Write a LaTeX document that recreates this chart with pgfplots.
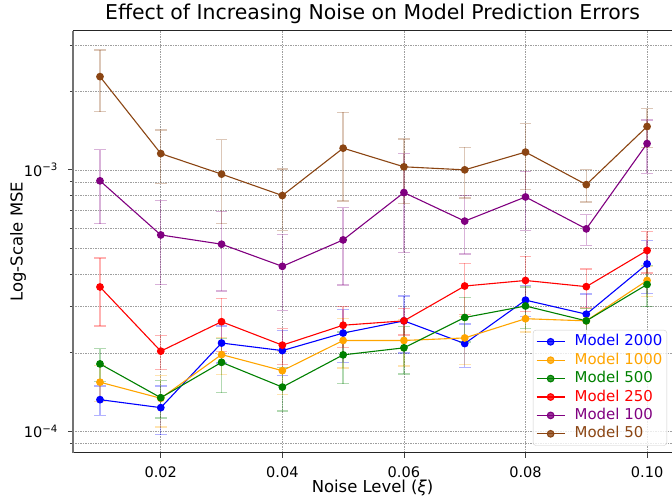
\documentclass[border=0pt]{standalone}
\usepackage{fontspec}
\setmainfont{DejaVu Sans}
\usepackage{pgfplots}
\usepackage{pgfplotstable}
\pgfplotsset{compat=1.18}

\definecolor{mblue}{HTML}{0000FF}
\definecolor{morange}{HTML}{FFA500}
\definecolor{mgreen}{HTML}{008000}
\definecolor{mred}{HTML}{FF0000}
\definecolor{mpurple}{HTML}{800080}
\definecolor{mbrown}{HTML}{8B4513}

% noise level, mean MSE, error
\pgfplotstableread{
x y e
0.01 1.325e-4 0.17e-4
0.02 1.235e-4 0.26e-4
0.03 2.18e-4 0.35e-4
0.04 2.04e-4 0.40e-4
0.05 2.38e-4 0.54e-4
0.06 2.65e-4 0.65e-4
0.07 2.17e-4 0.41e-4
0.08 3.18e-4 0.43e-4
0.09 2.81e-4 0.55e-4
0.10 4.37e-4 1.00e-4
}\mtwothousand
\pgfplotstableread{
x y e
0.01 1.545e-4 0.24e-4
0.02 1.341e-4 0.30e-4
0.03 1.97e-4 0.32e-4
0.04 1.71e-4 0.32e-4
0.05 2.23e-4 0.48e-4
0.06 2.23e-4 0.45e-4
0.07 2.28e-4 0.48e-4
0.08 2.70e-4 0.30e-4
0.09 2.65e-4 0.30e-4
0.10 3.78e-4 0.50e-4
}\mthousand
\pgfplotstableread{
x y e
0.01 1.815e-4 0.26e-4
0.02 1.348e-4 0.22e-4
0.03 1.84e-4 0.43e-4
0.04 1.48e-4 0.28e-4
0.05 1.965e-4 0.44e-4
0.06 2.09e-4 0.43e-4
0.07 2.73e-4 0.53e-4
0.08 3.02e-4 0.55e-4
0.09 2.65e-4 0.30e-4
0.10 3.65e-4 0.65e-4
}\mfivehundred
\pgfplotstableread{
x y e
0.01 3.57e-4 1.04e-4
0.02 2.03e-4 0.30e-4
0.03 2.63e-4 0.60e-4
0.04 2.14e-4 0.33e-4
0.05 2.55e-4 0.45e-4
0.06 2.65e-4 0.31e-4
0.07 3.60e-4 0.80e-4
0.08 3.78e-4 0.90e-4
0.09 3.58e-4 0.60e-4
0.10 4.92e-4 0.88e-4
}\mtwofifty
\pgfplotstableread{
x y e
0.01 9.08e-4 2.85e-4
0.02 5.64e-4 2.00e-4
0.03 5.20e-4 1.75e-4
0.04 4.28e-4 1.37e-4
0.05 5.40e-4 1.77e-4
0.06 8.19e-4 3.35e-4
0.07 6.37e-4 1.60e-4
0.08 7.88e-4 2.00e-4
0.09 5.95e-4 0.80e-4
0.10 1.26e-3 2.90e-4
}\mhundred
\pgfplotstableread{
x y e
0.01 2.27e-3 6.0e-4
0.02 1.154e-3 2.65e-4
0.03 9.63e-4 3.4e-4
0.04 7.98e-4 2.1e-4
0.05 1.21e-3 4.5e-4
0.06 1.027e-3 2.85e-4
0.07 1.0e-3 2.2e-4
0.08 1.169e-3 3.3e-4
0.09 8.78e-4 1.25e-4
0.10 1.464e-3 2.5e-4
}\mfifty

\pgfplotsset{
  model/.style={
    color=#1, solid, mark=*, mark size=3.3bp, line width=1.1bp,
    mark options={solid, fill=#1, draw=#1},
    error bars/.cd, y dir=both, y explicit,
    error bar style={#1, solid, opacity=0.3, line width=1.3bp},
    error mark options={rotate=90, mark size=5.8bp, #1, solid, opacity=0.3, line width=1.3bp},
  },
}

\begin{document}
\begin{tikzpicture}
\begin{axis}[
    name=ax,
    scale only axis,
    width=599bp, height=422bp,
    ymode=log,
    xmin=0.00556, xmax=0.1041,
    ymin=8.31e-5, ymax=3.40e-3,
    axis x line*=box, axis y line*=left,
    x axis line style={black!85, line width=1bp},
    y axis line style={black!55, line width=1.6bp},
    xtick={0.02,0.04,0.06,0.08,0.10},
    xticklabels={0.02,0.04,0.06,0.08,0.10},
    ytick={1e-4,1e-3},
    yticklabels={10\textsuperscript{−4},10\textsuperscript{−3}},
    minor ytick={9e-5,2e-4,3e-4,4e-4,5e-4,6e-4,7e-4,8e-4,9e-4,2e-3,3e-3},
    minor x tick num=0,
    tick align=outside,
    xtick pos=bottom, ytick pos=left,
    major tick length=5bp, minor tick length=3bp,
    tick style={black!75, line width=0.8bp},
    ticklabel style={font=\fontsize{14.6}{17}\selectfont, inner sep=0pt},
    xticklabel shift=9bp,
    yticklabel shift=10bp,
    xmajorgrids, ymajorgrids, yminorgrids,
    major grid style={gray!75, dash pattern=on 1.5bp off 1bp, line width=0.6bp},
    minor grid style={gray!75, dash pattern=on 1.5bp off 1bp, line width=0.6bp},
    title={Effect of Increasing Noise on Model Prediction Errors},
    every axis title/.style={font=\fontsize{20.5}{24}\selectfont, at={(axis description cs:0.5,1.0254)}, anchor=base, inner sep=0pt},
    xlabel={Noise Level ({\itshape ξ})},
    xlabel style={font=\fontsize{16.5}{19}\selectfont, at={(axis description cs:0.5,-0.0948)}, anchor=base, inner sep=0pt},
    ylabel={Log-Scale MSE},
    ylabel style={font=\fontsize{16.5}{19}\selectfont, at={(axis description cs:-0.0840,0.5)}, anchor=base, inner sep=0pt},
    legend cell align=left,
    legend style={
      at={(0.9917,0.0166)}, anchor=south east,
      draw=black!20, rounded corners=3bp, fill=white, fill opacity=0.8, text opacity=1,
      font=\fontsize{15}{18}\selectfont,
      inner xsep=3bp, inner ysep=2.5bp,
      nodes={inner sep=1.5bp, text height=11.8bp, text depth=3.6bp},
      /tikz/every odd column/.append style={column sep=8bp},
    },
    legend image code/.code={
      \draw[mark repeat=2, mark phase=2] plot coordinates {(0bp,0bp) (14bp,0bp) (28bp,0bp)};
    },
]
\addplot[model=mblue] table[x=x, y=y, y error=e] {\mtwothousand};
\addlegendentry{\textcolor{mblue}{Model 2000}}
\addplot[model=morange] table[x=x, y=y, y error=e] {\mthousand};
\addlegendentry{\textcolor{morange}{Model 1000}}
\addplot[model=mgreen] table[x=x, y=y, y error=e] {\mfivehundred};
\addlegendentry{\textcolor{mgreen}{Model 500}}
\addplot[model=mred] table[x=x, y=y, y error=e] {\mtwofifty};
\addlegendentry{\textcolor{mred}{Model 250}}
\addplot[model=mpurple] table[x=x, y=y, y error=e] {\mhundred};
\addlegendentry{\textcolor{mpurple}{Model 100}}
\addplot[model=mbrown] table[x=x, y=y, y error=e] {\mfifty};
\addlegendentry{\textcolor{mbrown}{Model 50}}
\end{axis}
\pgfresetboundingbox
\path[use as bounding box] ([shift={(-73bp,-43.3bp)}]ax.south west) rectangle ([shift={(0bp,30.7bp)}]ax.north east);
\end{tikzpicture}
\end{document}
